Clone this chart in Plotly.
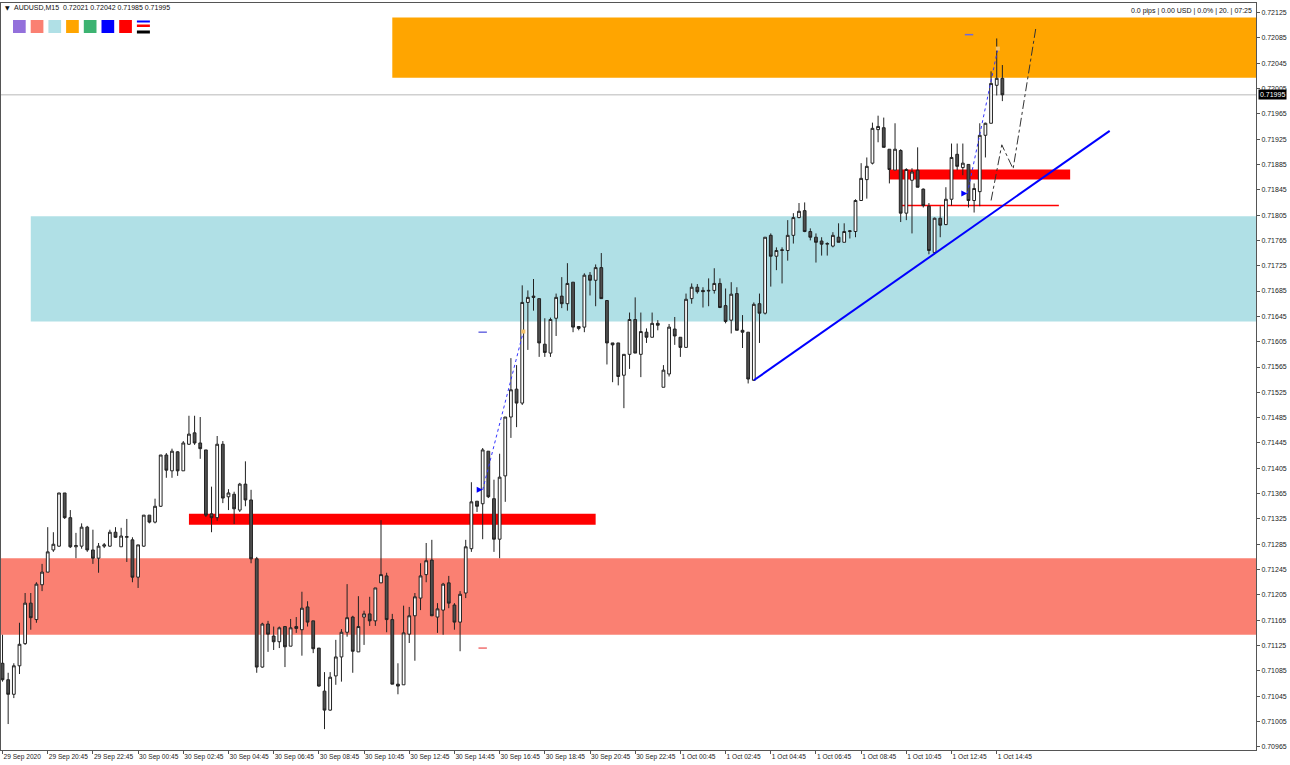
import plotly.graph_objects as go

# ---------------- data (AUDUSD M15 candles) ----------------
opens = [0.71097, 0.71071, 0.71048, 0.71093, 0.71128, 0.71192, 0.71166, 0.71221, 0.71241, 0.71276,
         0.71282, 0.71366, 0.71327, 0.71281, 0.71282, 0.71312, 0.71276, 0.71263, 0.71282, 0.71282,
         0.71304, 0.71281, 0.71296, 0.71292, 0.71233, 0.71282, 0.71331, 0.71320, 0.71345, 0.71426,
         0.71401, 0.71431, 0.71401, 0.71443, 0.71461, 0.71445, 0.71434, 0.71333, 0.71327, 0.71443,
         0.71360, 0.71364, 0.71339, 0.71380, 0.71355, 0.71262, 0.71091, 0.71159, 0.71140, 0.71131,
         0.71155, 0.71124, 0.71155, 0.71150, 0.71186, 0.71164, 0.71121, 0.71053, 0.71023, 0.71077,
         0.71107, 0.71146, 0.71170, 0.71115, 0.71170, 0.71175, 0.71164, 0.71224, 0.71235, 0.71166,
         0.71064, 0.71063, 0.71143, 0.71172, 0.71200, 0.71237, 0.71260, 0.71170, 0.71181, 0.71224,
         0.71189, 0.71162, 0.71208, 0.71278, 0.71353, 0.71349, 0.71432, 0.71357, 0.71293, 0.71393,
         0.71486, 0.71530, 0.71508, 0.71667, 0.71677, 0.71673, 0.71601, 0.71587, 0.71642, 0.71677,
         0.71665, 0.71699, 0.71629, 0.71628, 0.71710, 0.71702, 0.71722, 0.71670, 0.71603, 0.71603,
         0.71552, 0.71585, 0.71640, 0.71585, 0.71620, 0.71612, 0.71634, 0.71533, 0.71554, 0.71625,
         0.71612, 0.71596, 0.71673, 0.71691, 0.71686, 0.71685, 0.71686, 0.71697, 0.71662, 0.71639,
         0.71681, 0.71623, 0.71620, 0.71544, 0.71665, 0.71650, 0.71773, 0.71740, 0.71749, 0.71749,
         0.71773, 0.71801, 0.71812, 0.71779, 0.71770, 0.71764, 0.71759, 0.71756, 0.71770, 0.71762,
         0.71779, 0.71779, 0.71828, 0.71861, 0.71887, 0.71940, 0.71943, 0.71909, 0.71876, 0.71907,
         0.71808, 0.71860, 0.71876, 0.71846, 0.71819, 0.71746, 0.71800, 0.71790, 0.71830, 0.71901,
         0.71880, 0.71885, 0.71828, 0.71842, 0.71931, 0.71950, 0.72010, 0.72021]
highs = [0.71142, 0.71082, 0.71097, 0.71161, 0.71208, 0.71208, 0.71225, 0.71254, 0.71312, 0.71304,
         0.71366, 0.71366, 0.71339, 0.71303, 0.71318, 0.71314, 0.71308, 0.71287, 0.71287, 0.71308,
         0.71312, 0.71311, 0.71325, 0.71296, 0.71284, 0.71331, 0.71331, 0.71357, 0.71426, 0.71429,
         0.71436, 0.71432, 0.71448, 0.71488, 0.71488, 0.71486, 0.71434, 0.71376, 0.71456, 0.71448,
         0.71372, 0.71368, 0.71382, 0.71416, 0.71371, 0.71265, 0.71161, 0.71164, 0.71155, 0.71155,
         0.71155, 0.71167, 0.71170, 0.71210, 0.71195, 0.71164, 0.71121, 0.71083, 0.71083, 0.71134,
         0.71151, 0.71222, 0.71172, 0.71203, 0.71180, 0.71202, 0.71216, 0.71323, 0.71240, 0.71175,
         0.71097, 0.71188, 0.71186, 0.71208, 0.71255, 0.71287, 0.71292, 0.71192, 0.71224, 0.71235,
         0.71192, 0.71211, 0.71292, 0.71383, 0.71353, 0.71437, 0.71432, 0.71387, 0.71428, 0.71486,
         0.71579, 0.71568, 0.71694, 0.71686, 0.71704, 0.71673, 0.71642, 0.71643, 0.71681, 0.71707,
         0.71729, 0.71699, 0.71629, 0.71713, 0.71715, 0.71727, 0.71745, 0.71670, 0.71603, 0.71603,
         0.71585, 0.71651, 0.71675, 0.71651, 0.71626, 0.71651, 0.71639, 0.71568, 0.71633, 0.71644,
         0.71612, 0.71681, 0.71697, 0.71696, 0.71691, 0.71705, 0.71721, 0.71705, 0.71689, 0.71699,
         0.71691, 0.71647, 0.71620, 0.71667, 0.71681, 0.71770, 0.71776, 0.71754, 0.71754, 0.71797,
         0.71808, 0.71824, 0.71825, 0.71784, 0.71776, 0.71770, 0.71762, 0.71778, 0.71792, 0.71792,
         0.71781, 0.71830, 0.71887, 0.71896, 0.71951, 0.71962, 0.71959, 0.71909, 0.71950, 0.71909,
         0.71879, 0.71879, 0.71912, 0.71847, 0.71824, 0.71801, 0.71819, 0.71849, 0.71918, 0.71918,
         0.71918, 0.71885, 0.71855, 0.71950, 0.71951, 0.72032, 0.72084, 0.72042]
lows = [0.71068, 0.71001, 0.71042, 0.71080, 0.71126, 0.71150, 0.71161, 0.71211, 0.71241, 0.71273,
        0.71281, 0.71325, 0.71279, 0.71263, 0.71278, 0.71273, 0.71254, 0.71240, 0.71279, 0.71281,
        0.71295, 0.71281, 0.71257, 0.71225, 0.71216, 0.71281, 0.71318, 0.71318, 0.71344, 0.71390,
        0.71390, 0.71393, 0.71401, 0.71442, 0.71442, 0.71420, 0.71328, 0.71304, 0.71322, 0.71350,
        0.71339, 0.71317, 0.71336, 0.71345, 0.71255, 0.71082, 0.71090, 0.71115, 0.71118, 0.71121,
        0.71091, 0.71124, 0.71145, 0.71109, 0.71155, 0.71113, 0.71060, 0.70993, 0.71022, 0.71063,
        0.71068, 0.71139, 0.71082, 0.71115, 0.71126, 0.71156, 0.71156, 0.71224, 0.71146, 0.71064,
        0.71048, 0.71063, 0.71129, 0.71101, 0.71181, 0.71225, 0.71172, 0.71145, 0.71142, 0.71184,
        0.71150, 0.71116, 0.71200, 0.71273, 0.71336, 0.71293, 0.71358, 0.71273, 0.71263, 0.71352,
        0.71453, 0.71470, 0.71505, 0.71592, 0.71654, 0.71581, 0.71581, 0.71581, 0.71614, 0.71658,
        0.71654, 0.71620, 0.71623, 0.71620, 0.71678, 0.71661, 0.71673, 0.71569, 0.71541, 0.71536,
        0.71500, 0.71562, 0.71587, 0.71549, 0.71603, 0.71612, 0.71623, 0.71533, 0.71550, 0.71600,
        0.71581, 0.71596, 0.71665, 0.71681, 0.71659, 0.71661, 0.71681, 0.71658, 0.71634, 0.71618,
        0.71623, 0.71595, 0.71539, 0.71543, 0.71603, 0.71648, 0.71692, 0.71718, 0.71697, 0.71733,
        0.71760, 0.71800, 0.71778, 0.71765, 0.71730, 0.71741, 0.71741, 0.71754, 0.71762, 0.71762,
        0.71768, 0.71770, 0.71828, 0.71831, 0.71885, 0.71920, 0.71912, 0.71855, 0.71876, 0.71794,
        0.71797, 0.71776, 0.71849, 0.71817, 0.71743, 0.71743, 0.71770, 0.71789, 0.71820, 0.71876,
        0.71868, 0.71817, 0.71809, 0.71819, 0.71896, 0.71950, 0.71994, 0.71985]
closes = [0.71071, 0.71048, 0.71093, 0.71127, 0.71192, 0.71169, 0.71222, 0.71241, 0.71273, 0.71285,
          0.71366, 0.71327, 0.71281, 0.71283, 0.71312, 0.71276, 0.71263, 0.71282, 0.71284, 0.71304,
          0.71296, 0.71298, 0.71297, 0.71233, 0.71284, 0.71331, 0.71320, 0.71345, 0.71426, 0.71402,
          0.71432, 0.71401, 0.71445, 0.71459, 0.71445, 0.71436, 0.71331, 0.71327, 0.71443, 0.71358,
          0.71366, 0.71341, 0.71380, 0.71355, 0.71262, 0.71091, 0.71159, 0.71143, 0.71131, 0.71153,
          0.71123, 0.71153, 0.71152, 0.71184, 0.71162, 0.71120, 0.71061, 0.71023, 0.71075, 0.71107,
          0.71146, 0.71169, 0.71116, 0.71155, 0.71175, 0.71164, 0.71216, 0.71237, 0.71166, 0.71064,
          0.71061, 0.71145, 0.71172, 0.71202, 0.71235, 0.71259, 0.71172, 0.71183, 0.71222, 0.71192,
          0.71162, 0.71206, 0.71281, 0.71352, 0.71345, 0.71434, 0.71360, 0.71293, 0.71391, 0.71486,
          0.71529, 0.71508, 0.71667, 0.71675, 0.71675, 0.71603, 0.71588, 0.71640, 0.71675, 0.71665,
          0.71697, 0.71628, 0.71626, 0.71710, 0.71702, 0.71722, 0.71673, 0.71603, 0.71600, 0.71550,
          0.71585, 0.71640, 0.71587, 0.71621, 0.71612, 0.71634, 0.71631, 0.71560, 0.71628, 0.71614,
          0.71596, 0.71672, 0.71691, 0.71684, 0.71684, 0.71686, 0.71697, 0.71659, 0.71637, 0.71680,
          0.71623, 0.71620, 0.71546, 0.71664, 0.71650, 0.71770, 0.71740, 0.71749, 0.71750, 0.71773,
          0.71801, 0.71811, 0.71779, 0.71770, 0.71762, 0.71759, 0.71760, 0.71773, 0.71762, 0.71779,
          0.71780, 0.71828, 0.71863, 0.71882, 0.71942, 0.71945, 0.71912, 0.71877, 0.71909, 0.71808,
          0.71877, 0.71873, 0.71849, 0.71820, 0.71749, 0.71800, 0.71789, 0.71830, 0.71896, 0.71882,
          0.71887, 0.71828, 0.71847, 0.71931, 0.71950, 0.72013, 0.72021, 0.71995]
bars = list(range(len(opens)))

time_tick_bars = [0, 8, 16, 24, 32, 40, 48, 56, 64, 72, 80, 88, 96, 104, 112, 120, 128, 136, 144, 152,
                  160, 168, 176]
time_tick_labels = ["29 Sep 2020", "29 Sep 20:45", "29 Sep 22:45", "30 Sep 00:45", "30 Sep 02:45",
                    "30 Sep 04:45", "30 Sep 06:45", "30 Sep 08:45", "30 Sep 10:45", "30 Sep 12:45",
                    "30 Sep 14:45", "30 Sep 16:45", "30 Sep 18:45", "30 Sep 20:45", "30 Sep 22:45",
                    "1 Oct 00:45", "1 Oct 02:45", "1 Oct 04:45", "1 Oct 06:45", "1 Oct 08:45",
                    "1 Oct 10:45", "1 Oct 12:45", "1 Oct 14:45"]

price_tick_labels = ["0.70965", "0.71005", "0.71045", "0.71085", "0.71125", "0.71165", "0.71205",
                     "0.71245", "0.71285", "0.71325", "0.71365", "0.71405", "0.71445", "0.71485",
                     "0.71525", "0.71565", "0.71605", "0.71645", "0.71685", "0.71725", "0.71765",
                     "0.71805", "0.71845", "0.71885", "0.71925", "0.71965", "0.72005", "0.72045",
                     "0.72085", "0.72125"]
price_tick_values = [float(s) for s in price_tick_labels]

# zones: (start bar, top price, bottom price, colour)
zone_start = [69, 5, -5]
zone_top = [0.72117, 0.71803, 0.71263]
zone_bottom = [0.72022, 0.71637, 0.71142]
zone_colors = ["#FFA500", "#B0E0E6", "#FA8072"]

# red resistance/support bands
band_start = [33, 157]
band_end = [105, 189]
band_top = [0.71333, 0.71877]
band_bottom = [0.71316, 0.71861]

thin_line_bars = [159, 187]
thin_line_price = 0.71820

trend_bars = [133, 196]
trend_prices = [0.71544, 0.71938]

trade1_bars = [85, 92.2]
trade1_prices = [0.71371, 0.71621]
trade2_bars = [170.8, 176.2]
trade2_prices = [0.71839, 0.72068]

tp_bars = [85, 171.1]
tp_prices = [0.71620, 0.72090]
sl_bars = [85]
sl_prices = [0.71121]

proj_bars = [175, 176.9, 178.9, 182.9]
proj_prices = [0.71828, 0.71916, 0.71878, 0.72099]

bid_price = 0.71995
header_text = "AUDUSD,M15  0.72021 0.72042 0.71985 0.71995"
info_text = "0.0 pips | 0.00 USD | 0.0% | 20. | 07:25"
palette = ["#9370DB", "#FA8072", "#B0E0E6", "#FFA500", "#3CB371", "#0000FF", "#FF0000"]

FONT = "Liberation Sans"

fig = go.Figure()

fig.add_trace(go.Candlestick(
    x=bars, open=opens, high=highs, low=lows, close=closes,
    increasing=dict(line=dict(color="#222222", width=1), fillcolor="#FFFFFF"),
    decreasing=dict(line=dict(color="#222222", width=1), fillcolor="#4F4F4F"),
    whiskerwidth=0, showlegend=False, hoverinfo="skip"))

# trend line
fig.add_trace(go.Scatter(x=trend_bars, y=trend_prices, mode="lines",
                         line=dict(color="#0000FF", width=2), showlegend=False, hoverinfo="skip"))
# trade history lines
for bx, py in [(trade1_bars, trade1_prices), (trade2_bars, trade2_prices)]:
    fig.add_trace(go.Scatter(x=bx, y=py, mode="lines", line=dict(color="#3333FF", width=1, dash="dot"),
                             showlegend=False, hoverinfo="skip"))
    fig.add_trace(go.Scatter(x=[bx[0]], y=[py[0]], mode="markers",
                             marker=dict(symbol="arrow-right", size=6, color="#0000FF"),
                             showlegend=False, hoverinfo="skip"))
    fig.add_trace(go.Scatter(x=[bx[1]], y=[py[1]], mode="markers",
                             marker=dict(symbol="square", size=4, color="#F5C26B"),
                             showlegend=False, hoverinfo="skip"))
fig.add_trace(go.Scatter(x=tp_bars, y=tp_prices, mode="markers",
                         marker=dict(symbol="line-ew", size=6, line=dict(color="#6A6AE0", width=1.5)),
                         showlegend=False, hoverinfo="skip"))
fig.add_trace(go.Scatter(x=sl_bars, y=sl_prices, mode="markers",
                         marker=dict(symbol="line-ew", size=6, line=dict(color="#F07070", width=1.5)),
                         showlegend=False, hoverinfo="skip"))
# projected path
fig.add_trace(go.Scatter(x=proj_bars, y=proj_prices, mode="lines",
                         line=dict(color="#333333", width=1, dash="dashdot"),
                         showlegend=False, hoverinfo="skip"))

shapes = []
for x0, top, bot, col in zip(zone_start, zone_top, zone_bottom, zone_colors):
    shapes.append(dict(type="rect", xref="x", yref="y", x0=x0, x1=260, y0=bot, y1=top,
                       fillcolor=col, line=dict(width=0), layer="below"))
for x0, x1, top, bot in zip(band_start, band_end, band_top, band_bottom):
    shapes.append(dict(type="rect", xref="x", yref="y", x0=x0, x1=x1, y0=bot, y1=top,
                       fillcolor="#FF0000", line=dict(width=0), layer="below"))
shapes.append(dict(type="line", xref="x", yref="y", x0=thin_line_bars[0], x1=thin_line_bars[1],
                   y0=thin_line_price, y1=thin_line_price, line=dict(color="#FF0000", width=1.5),
                   layer="below"))
shapes.append(dict(type="line", xref="paper", yref="y", x0=0, x1=1, y0=bid_price, y1=bid_price,
                   line=dict(color="#D0D0D0", width=1.5), layer="below"))
# colour palette squares (top-left toolbar)
for k, col in enumerate(palette):
    left = 12 + k * 17.7
    shapes.append(dict(type="rect", xref="paper", yref="paper", xsizemode="pixel", ysizemode="pixel",
                       xanchor=0, yanchor=1, x0=left, x1=left + 12.7, y0=-30, y1=-17,
                       fillcolor=col, line=dict(width=0)))
# line-style icon
icon_left = 12 + 7 * 17.7
for (y0, y1, col) in [(-19.5, -17.5, "#0000FF"), (-24, -21.5, "#FF0000"), (-30.5, -27.5, "#000000")]:
    shapes.append(dict(type="rect", xref="paper", yref="paper", xsizemode="pixel", ysizemode="pixel",
                       xanchor=0, yanchor=1, x0=icon_left, x1=icon_left + 13, y0=y0, y1=y1,
                       fillcolor=col, line=dict(width=0)))

annotations = [
    dict(xref="paper", yref="paper", x=0, y=1, xanchor="left", yanchor="middle", xshift=2, yshift=-4,
         text="▼", showarrow=False, font=dict(family="DejaVu Sans", size=6, color="#111")),
    dict(xref="paper", yref="paper", x=0, y=1, xanchor="left", yanchor="middle", xshift=11, yshift=-4,
         text=header_text, showarrow=False, font=dict(family=FONT, size=7, color="#111")),
    dict(xref="paper", yref="paper", x=1, y=1, xanchor="right", yanchor="middle", xshift=-2, yshift=-8,
         text=info_text, showarrow=False, font=dict(family=FONT, size=7, color="#111")),
    dict(xref="paper", yref="y", x=1, y=bid_price, xanchor="left", yanchor="middle", xshift=2,
         text=f"{bid_price:.5f}", showarrow=False, bgcolor="#000000", borderpad=1,
         font=dict(family=FONT, size=7, color="#FFFFFF")),
]

fig.update_layout(
    width=1290, height=765,
    margin=dict(l=1, r=34, t=3, b=15, pad=0, autoexpand=False),
    paper_bgcolor="#FFFFFF", plot_bgcolor="#FFFFFF",
    showlegend=False, shapes=shapes, annotations=annotations,
    xaxis=dict(range=[-0.27, 221.9], rangeslider=dict(visible=False), showgrid=False, zeroline=False,
               tickmode="array", tickvals=time_tick_bars, ticktext=time_tick_labels, tickangle=0,
               ticks="outside", ticklen=3, tickcolor="#555555", ticklabelposition="outside right",
               tickfont=dict(family=FONT, size=6.6, color="#222222"), automargin=False,
               showline=True, linecolor="#555555", linewidth=1, mirror=True, fixedrange=True),
    yaxis=dict(range=[0.70960, 0.72140], side="right", showgrid=False, zeroline=False,
               tickmode="array", tickvals=price_tick_values, ticktext=price_tick_labels,
               ticks="outside", ticklen=3, tickcolor="#555555", automargin=False,
               tickfont=dict(family=FONT, size=7, color="#222222"),
               showline=True, linecolor="#555555", linewidth=1, mirror=True, fixedrange=True),
)

fig.write_html("out.html")
